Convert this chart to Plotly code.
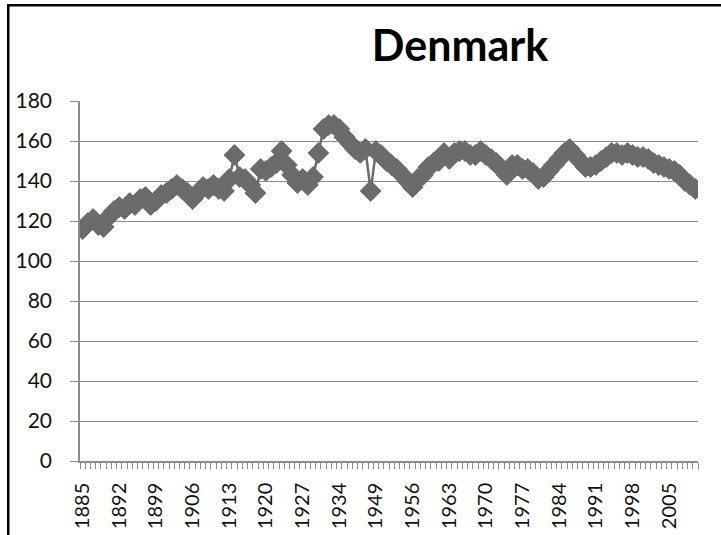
import plotly.graph_objects as go

# Annual series for Denmark (no observations for 1940-1947)
years = list(range(1885, 1940)) + list(range(1948, 2011))
values = [
    116, 119, 121, 118, 117, 122, 125, 127, 126, 129,   # 1885-1894
    128, 131, 132, 128, 130, 133, 134, 136, 138, 136,   # 1895-1904
    134, 131, 134, 137, 136, 138, 136, 135, 141, 153,   # 1905-1914
    142, 141, 138, 134, 146, 145, 147, 149, 155, 148,   # 1915-1924
    143, 139, 141, 138, 142, 154, 166, 168, 168, 166,   # 1925-1934
    162, 159, 156, 154, 156,                            # 1935-1939
    135, 155, 153, 150, 148, 146, 143, 140, 137, 141,   # 1948-1957
    143, 147, 149, 150, 154, 151, 154, 155, 155, 153,   # 1958-1967
    153, 155, 153, 151, 149, 146, 143, 148, 148, 146,   # 1968-1977
    146, 144, 141, 142, 145, 148, 151, 154, 156, 153,   # 1978-1987
    150, 147, 147, 148, 150, 152, 154, 154, 153, 154,   # 1988-1997
    153, 152, 152, 151, 149, 148, 147, 146, 145, 143,   # 1998-2007
    140, 138, 136,                                      # 2008-2010
]
y_ticks = [0, 20, 40, 60, 80, 100, 120, 140, 160, 180]

idx = list(range(len(years)))
label_idx = idx[::7]
label_txt = [str(years[i]) for i in label_idx]

GRAY = "#6b6b6b"
AXIS = "#8c8c8c"

fig = go.Figure(
    go.Scatter(
        x=idx,
        y=values,
        mode="lines+markers",
        line=dict(color=GRAY, width=2.5),
        marker=dict(symbol="diamond", size=16, color=GRAY,
                    line=dict(color=GRAY, width=1)),
        hoverinfo="skip",
    )
)

L, R, T, B = 80, 23, 101, 74
W, H = 721, 535
pw, ph = W - L - R, H - T - B

fig.update_layout(
    width=W,
    height=H,
    margin=dict(l=L, r=R, t=T, b=B, pad=0),
    paper_bgcolor="white",
    plot_bgcolor="white",
    showlegend=False,
    font=dict(family="Lato, Open Sans, sans-serif", size=21, color="#111111"),
    title=dict(
        text="<b>Denmark</b>",
        font=dict(family="Lato, Open Sans, sans-serif", size=43, color="#000000"),
        x=460 / W,
        xanchor="center",
        xref="container",
        y=1 - 46 / H,
        yanchor="middle",
        yref="container",
    ),
    xaxis=dict(
        range=[-0.5, len(years) - 0.5],
        tickmode="array",
        tickvals=label_idx,
        ticktext=label_txt,
        tickangle=-90,
        tickfont=dict(size=20),
        ticks="",
        ticklabelstandoff=12,
        automargin=False,
        showgrid=False,
        zeroline=False,
        showline=True,
        linecolor=AXIS,
        linewidth=1.5,
        minor=dict(ticks="outside", tick0=-0.5, dtick=1, ticklen=6,
                   tickcolor=AXIS, tickwidth=1, showgrid=False),
    ),
    yaxis=dict(
        range=[0, 180],
        tickmode="array",
        tickvals=y_ticks,
        ticks="outside",
        ticklen=8,
        tickcolor=AXIS,
        tickwidth=1,
        ticklabelstandoff=14,
        automargin=False,
        showgrid=True,
        gridcolor=AXIS,
        gridwidth=1,
        zeroline=False,
        showline=True,
        linecolor=AXIS,
        linewidth=1.5,
    ),
)

# Chart-area frame along the left and top edges, as thin filled bands
def px_x(p):
    return (p - L) / pw

def px_y(p):
    return 1 - (p - T) / ph

frame = dict(type="rect", xref="paper", yref="paper",
             fillcolor="#000000", line=dict(width=0), layer="above")
fig.add_shape(**frame, x0=px_x(7), x1=px_x(9.5), y0=px_y(H), y1=px_y(4))
fig.add_shape(**frame, x0=px_x(7), x1=px_x(W), y0=px_y(6.5), y1=px_y(4))

fig.write_html("out.html")
